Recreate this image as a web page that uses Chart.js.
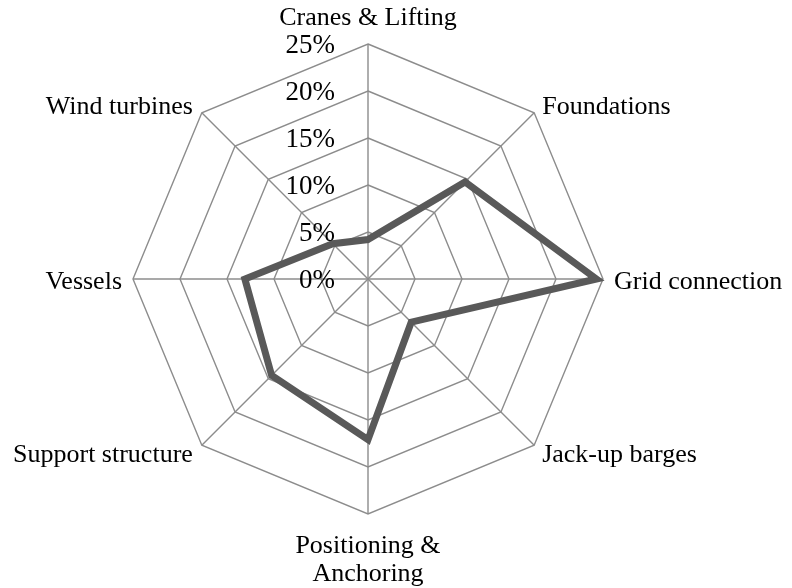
<!DOCTYPE html>
<html>
<head>
<meta charset="utf-8">
<script src="https://cdn.jsdelivr.net/npm/chart.js@4.4.0/dist/chart.umd.min.js"></script>
<style>
  html, body { margin: 0; padding: 0; background: #fff; }
  #wrap { width: 792px; height: 588px; position: relative; }
</style>
</head>
<body>
<div id="wrap"><canvas id="radar"></canvas></div>
<script>
const categories = [
    'Cranes & Lifting',
    'Foundations',
    'Grid connection',
    'Jack-up barges',
    ['Positioning &', 'Anchoring'],
    'Support structure',
    'Vessels',
    'Wind turbines'
];
const shares = [4.2, 14.6, 24.3, 6.5, 17.1, 14.5, 13.1, 5.3];
const tickValues = [0, 5, 10, 15, 20, 25];

const FONT = '"Liberation Serif", "Times New Roman", serif';

// tick labels sit to the left of the vertical spoke, like the original
const leftTicks = {
    id: 'leftTicks',
    afterDraw(chart) {
        const r = chart.scales.r;
        const ctx = chart.ctx;
        ctx.save();
        ctx.font = '27px ' + FONT;
        ctx.fillStyle = '#000';
        ctx.textAlign = 'right';
        ctx.textBaseline = 'middle';
        tickValues.forEach(v => {
            const d = r.getDistanceFromCenterForValue(v);
            ctx.fillText(v + '%', r.xCenter - 33, r.yCenter - d + 2);
        });
        ctx.restore();
    }
};

// category labels placed next to each outer vertex (Excel style)
const outerLabels = {
    id: 'outerLabels',
    afterDraw(chart) {
        const r = chart.scales.r;
        const ctx = chart.ctx;
        ctx.save();
        ctx.font = '26px ' + FONT;
        ctx.fillStyle = '#000';
        ctx.textBaseline = 'alphabetic';
        categories.forEach((label, i) => {
            const p = r.getPointPosition(i, r.drawingArea);
            const deg = Math.round(i * 360 / categories.length);
            const lines = Array.isArray(label) ? label : [label];
            let x = p.x, y = p.y, align = 'center';
            if (deg === 0) { y -= 19; }
            else if (deg === 180) { y += 39; }
            else if (deg === 90) { align = 'left'; x += 11; y += 10; }
            else if (deg === 270) { align = 'right'; x -= 11; y += 10; }
            else if (deg < 90) { align = 'left'; x += 8; y += 1; }
            else if (deg < 180) { align = 'left'; x += 8; y += 17; }
            else if (deg < 270) { align = 'right'; x -= 9; y += 17; }
            else { align = 'right'; x -= 9; y += 1; }
            ctx.textAlign = align;
            lines.forEach((ln, k) => ctx.fillText(ln, x, y + k * 28));
        });
        ctx.restore();
    }
};

new Chart(document.getElementById('radar'), {
    type: 'radar',
    data: {
        labels: categories,
        datasets: [{
            data: shares,
            borderColor: '#595959',
            borderWidth: 7,
            fill: false,
            pointRadius: 0,
            tension: 0
        }]
    },
    options: {
        responsive: true,
        maintainAspectRatio: false,
        animation: false,
        layout: { padding: { top: 44, bottom: 74, left: 133, right: 189 } },
        plugins: {
            legend: { display: false },
            tooltip: { enabled: false }
        },
        scales: {
            r: {
                min: 0,
                max: 25,
                ticks: { stepSize: 5, display: false },
                grid: { color: '#8c8c8c', lineWidth: 1.4 },
                angleLines: { color: '#8c8c8c', lineWidth: 1.4 },
                pointLabels: { display: false }
            }
        }
    },
    plugins: [leftTicks, outerLabels]
});
</script>
</body>
</html>
